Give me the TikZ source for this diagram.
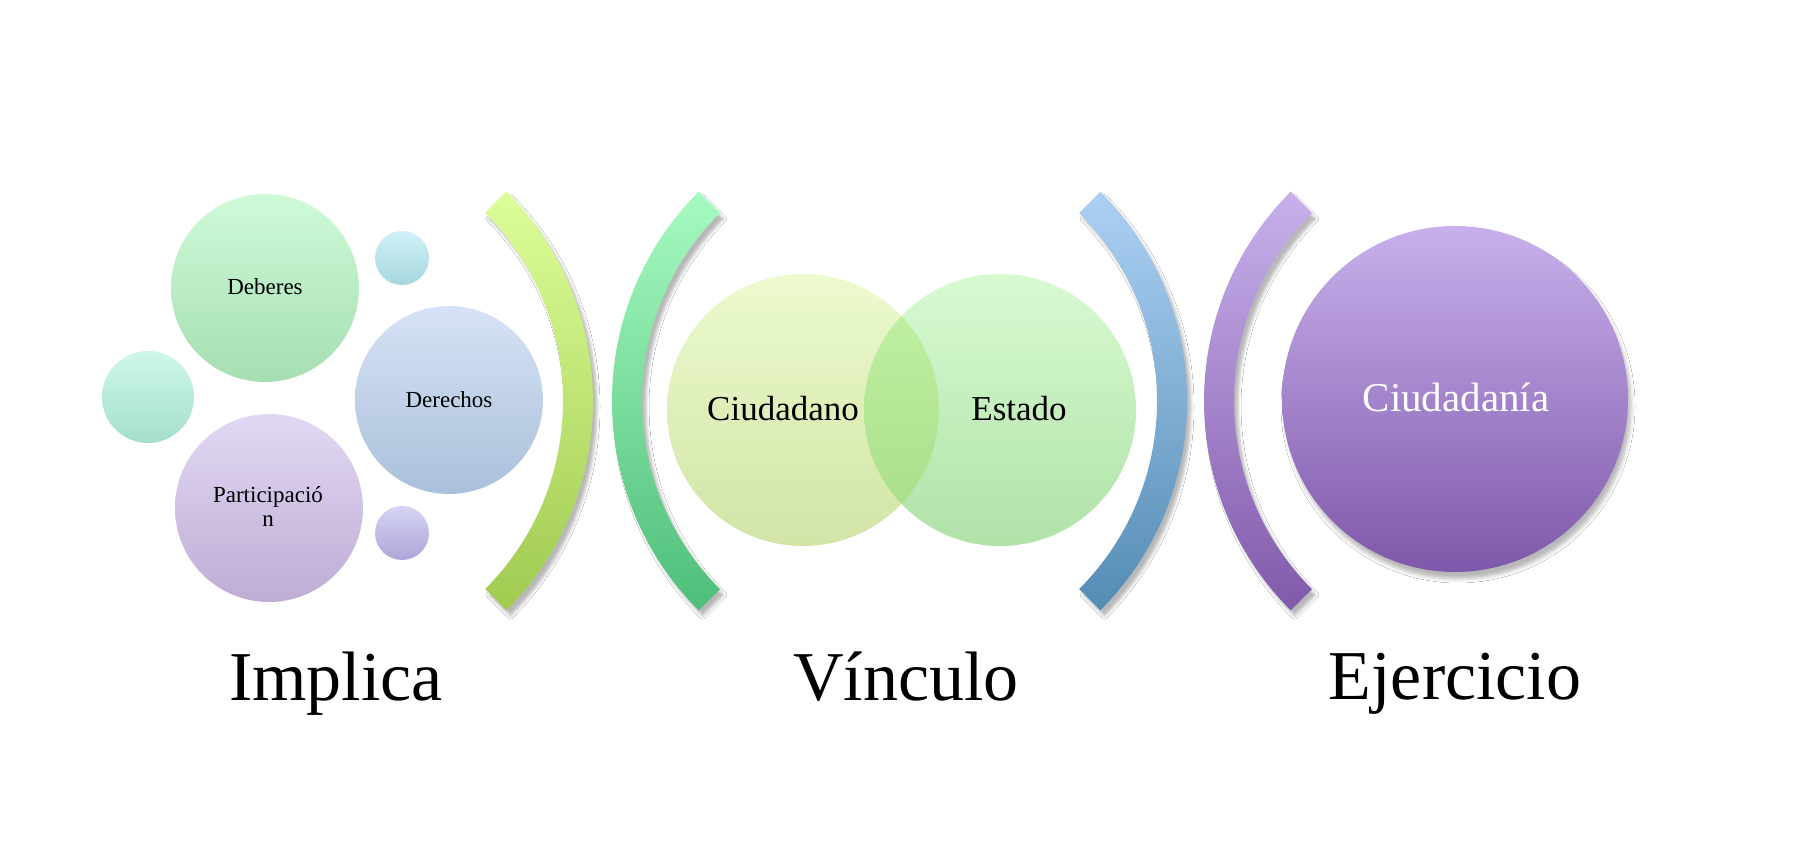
\documentclass[tikz,border=0pt]{standalone}
\usepackage{fontspec}
\setmainfont{Liberation Serif}
\usetikzlibrary{shadows.blur}
\definecolor{debT}{RGB}{206,250,216}
\definecolor{debB}{RGB}{166,222,178}
\definecolor{sctT}{RGB}{208,242,248}
\definecolor{sctB}{RGB}{166,214,220}
\definecolor{derT}{RGB}{214,226,246}
\definecolor{derB}{RGB}{170,192,218}
\definecolor{sclT}{RGB}{206,248,232}
\definecolor{sclB}{RGB}{164,222,204}
\definecolor{parT}{RGB}{226,216,244}
\definecolor{parB}{RGB}{190,172,212}
\definecolor{scbT}{RGB}{214,212,244}
\definecolor{scbB}{RGB}{172,166,216}
\definecolor{aOneT}{RGB}{220,254,152}
\definecolor{aOneB}{RGB}{160,202,80}
\definecolor{aTwoT}{RGB}{166,250,192}
\definecolor{aTwoB}{RGB}{78,190,122}
\definecolor{aThrT}{RGB}{172,208,244}
\definecolor{aThrB}{RGB}{84,140,180}
\definecolor{aFouT}{RGB}{200,176,236}
\definecolor{aFouB}{RGB}{128,90,170}
\definecolor{vcaT}{RGB}{236,250,206}
\definecolor{vcaB}{RGB}{210,228,166}
\definecolor{vcbT}{RGB}{216,250,210}
\definecolor{vcbB}{RGB}{176,226,168}
\definecolor{ovT}{RGB}{196,242,166}
\definecolor{ovB}{RGB}{166,220,134}
\definecolor{ciuT}{RGB}{200,176,236}
\definecolor{ciuB}{RGB}{126,88,170}
\begin{document}
\begin{tikzpicture}[x=1pt,y=1pt,
  bub/.style={circle, inner sep=0pt, minimum size=#1},
  arcsh/.style={blur shadow={shadow xshift=4pt, shadow yshift=-6pt, shadow blur radius=3pt, shadow opacity=28}},
  smalltxt/.style={anchor=base, text=black, font=\fontsize{23}{23}\selectfont},
  venntxt/.style={anchor=base, text=black, font=\fontsize{35}{35}\selectfont},
  bigtxt/.style={anchor=base, text=black, font=\fontsize{70}{70}\selectfont}]
\useasboundingbox (0,0) rectangle (1798,842);
\fill[white] (0,0) rectangle (1798,842);

% left cluster
\node[bub=188pt, top color=debT, bottom color=debB] (deb) at (265,554) {};
\node[bub=54pt, top color=sctT, bottom color=sctB] (st) at (402,584) {};
\node[bub=188pt, top color=derT, bottom color=derB] (der) at (449,442) {};
\node[bub=92pt, top color=sclT, bottom color=sclB] (sl) at (148,445) {};
\node[bub=188pt, top color=parT, bottom color=parB] (par) at (269,334) {};
\node[bub=54pt, top color=scbT, bottom color=scbB] (sb) at (402,309) {};
\node[smalltxt] (tdeb) at ([yshift=-7pt]deb.center) {Deberes};
\node[smalltxt] (tder) at ([yshift=-8pt]der.center) {Derechos};
\node[smalltxt] (tparA) at ([xshift=-1pt,yshift=5pt]par.center) {Participació};
\node[smalltxt] (tparB) at ([xshift=-1pt,yshift=-19pt]par.center) {n};

% arcs
\shade[arcsh, top color=aOneT, bottom color=aOneB] (297,441) ++(-45:296) arc[start angle=-45,end angle=45,radius=296] -- ++(225:30) arc[start angle=45,end angle=-45,radius=266] -- cycle;
\shade[arcsh, top color=aTwoT, bottom color=aTwoB] (908,441) ++(135:296) arc[start angle=135,end angle=225,radius=296] -- ++(45:30) arc[start angle=225,end angle=135,radius=266] -- cycle;
\shade[arcsh, top color=aThrT, bottom color=aThrB] (891,441) ++(-45:296) arc[start angle=-45,end angle=45,radius=296] -- ++(225:30) arc[start angle=45,end angle=-45,radius=266] -- cycle;
\shade[arcsh, top color=aFouT, bottom color=aFouB] (1500,441) ++(135:296) arc[start angle=135,end angle=225,radius=296] -- ++(45:30) arc[start angle=225,end angle=135,radius=266] -- cycle;

% venn
\node[bub=272pt, top color=vcaT, bottom color=vcaB] (ciud) at (803,432) {};
\node[bub=272pt, top color=vcbT, bottom color=vcbB] (est) at (1000,432) {};
\begin{scope}
  \clip (ciud.center) circle[radius=136];
  \shade[top color=ovT, bottom color=ovB] (est.center) circle[radius=136];
\end{scope}
\node[venntxt] (tciud) at ([xshift=-20pt,yshift=-11pt]ciud.center) {Ciudadano};
\node[venntxt] (test) at ([xshift=19pt,yshift=-11pt]est.center) {Estado};

% right circle
\node[bub=346pt, top color=ciuT, bottom color=ciuB, blur shadow={shadow xshift=3pt, shadow yshift=-7pt, shadow blur radius=4pt, shadow opacity=28}] (cia) at (1455,443) {};
\node[anchor=base, text=white, font=\fontsize{41}{41}\selectfont] (tcia) at ([xshift=1pt,yshift=-13pt]cia.center) {Ciudadanía};

% bottom labels
\node[bigtxt] (limp) at (336,141) {Implica};
\node[bigtxt] (lvin) at (906,141) {Vínculo};
\node[bigtxt] (leje) at (1455,142) {Ejercicio};
\end{tikzpicture}
\end{document}
